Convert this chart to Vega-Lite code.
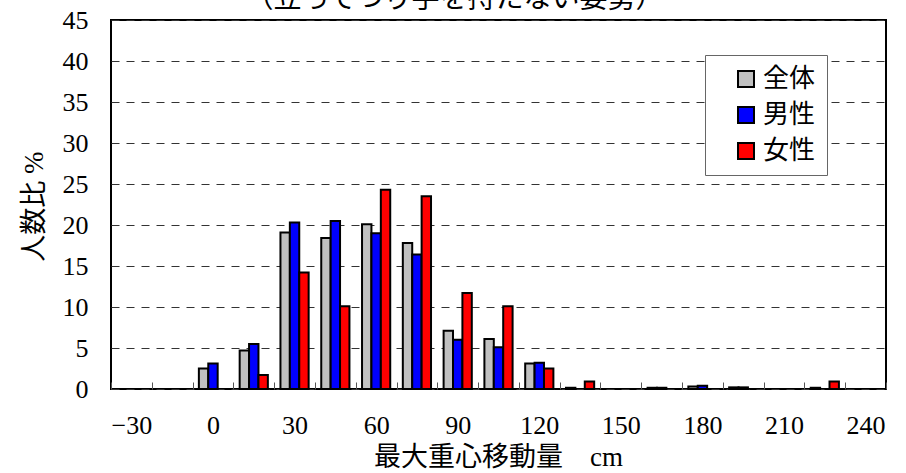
{
  "$schema": "https://vega.github.io/schema/vega-lite/v6.json",
  "autosize": "none",
  "width": 775,
  "height": 369,
  "padding": {"left": 111, "top": 20, "right": 20, "bottom": 84},
  "background": "white",
  "config": {
    "font": "Liberation Serif, Noto Sans CJK JP",
    "view": {"stroke": "black", "strokeWidth": 2}
  },
  "title": {
    "text": "（立ってつり手を持たない姿勢）",
    "fontSize": 28,
    "fontWeight": "normal",
    "font": "Liberation Serif, Noto Sans CJK JP",
    "color": "black",
    "baseline": "bottom",
    "offset": 0,
    "dy": 35,
    "dx": -44
  },
  "data": {
    "values": [
      {"bin": 0, "group": "全体", "pct": 2.5},
      {"bin": 0, "group": "男性", "pct": 3.1},
      {"bin": 15, "group": "全体", "pct": 4.7},
      {"bin": 15, "group": "男性", "pct": 5.5},
      {"bin": 15, "group": "女性", "pct": 1.7},
      {"bin": 30, "group": "全体", "pct": 19.1},
      {"bin": 30, "group": "男性", "pct": 20.3},
      {"bin": 30, "group": "女性", "pct": 14.2},
      {"bin": 45, "group": "全体", "pct": 18.4},
      {"bin": 45, "group": "男性", "pct": 20.5},
      {"bin": 45, "group": "女性", "pct": 10.1},
      {"bin": 60, "group": "全体", "pct": 20.1},
      {"bin": 60, "group": "男性", "pct": 19.0},
      {"bin": 60, "group": "女性", "pct": 24.3},
      {"bin": 75, "group": "全体", "pct": 17.8},
      {"bin": 75, "group": "男性", "pct": 16.4},
      {"bin": 75, "group": "女性", "pct": 23.5},
      {"bin": 90, "group": "全体", "pct": 7.1},
      {"bin": 90, "group": "男性", "pct": 6.0},
      {"bin": 90, "group": "女性", "pct": 11.7},
      {"bin": 105, "group": "全体", "pct": 6.1},
      {"bin": 105, "group": "男性", "pct": 5.1},
      {"bin": 105, "group": "女性", "pct": 10.1},
      {"bin": 120, "group": "全体", "pct": 3.1},
      {"bin": 120, "group": "男性", "pct": 3.2},
      {"bin": 120, "group": "女性", "pct": 2.5},
      {"bin": 135, "group": "全体", "pct": 0.15},
      {"bin": 135, "group": "女性", "pct": 0.9},
      {"bin": 165, "group": "全体", "pct": 0.15},
      {"bin": 165, "group": "男性", "pct": 0.15},
      {"bin": 180, "group": "全体", "pct": 0.3},
      {"bin": 180, "group": "男性", "pct": 0.4},
      {"bin": 195, "group": "全体", "pct": 0.2},
      {"bin": 195, "group": "男性", "pct": 0.2},
      {"bin": 225, "group": "全体", "pct": 0.15},
      {"bin": 225, "group": "女性", "pct": 0.9}
    ]
  },
  "mark": {"type": "bar", "stroke": "black", "strokeWidth": 2},
  "encoding": {
    "x": {
      "field": "bin",
      "type": "ordinal",
      "scale": {
        "domain": [-30, -15, 0, 15, 30, 45, 60, 75, 90, 105, 120, 135, 150, 165, 180, 195, 210, 225, 240],
        "paddingInner": 0,
        "paddingOuter": 0
      },
      "axis": {
        "title": "最大重心移動量　cm",
        "titleFontSize": 27,
        "titleFontWeight": "normal",
        "titleColor": "black",
        "titleX": 387,
        "titleY": 68,
        "titleAlign": "center",
        "titleBaseline": "middle",
        "labelAngle": 0,
        "labelFontSize": 26,
        "labelColor": "black",
        "labelExpr": "datum.value % 30 === 0 ? (datum.value < 0 ? '−' + abs(datum.value) : datum.label) : ''",
        "tickBand": "extent",
        "tickSize": -7,
        "tickColor": "#555555",
        "tickWidth": 1,
        "labelPadding": 30,
        "domain": false,
        "grid": false
      }
    },
    "xOffset": {
      "field": "group",
      "type": "nominal",
      "sort": ["全体", "男性", "女性"],
      "scale": {"paddingInner": 0, "paddingOuter": 0.67}
    },
    "y": {
      "field": "pct",
      "type": "quantitative",
      "scale": {"domain": [0, 45], "nice": false},
      "axis": {
        "values": [0, 5, 10, 15, 20, 25, 30, 35, 40, 45],
        "title": "人数比 %",
        "titleFontSize": 27,
        "titleFontWeight": "normal",
        "titleColor": "black",
        "titleX": -77,
        "titleY": 186,
        "titleAngle": -90,
        "titleAlign": "center",
        "titleBaseline": "middle",
        "labelFontSize": 26,
        "labelColor": "black",
        "labelPadding": 23,
        "ticks": false,
        "domain": false,
        "grid": true,
        "gridColor": "#333333",
        "gridWidth": 1,
        "gridDash": [8, 7]
      }
    },
    "fill": {
      "field": "group",
      "type": "nominal",
      "sort": ["全体", "男性", "女性"],
      "scale": {"domain": ["全体", "男性", "女性"], "range": ["#C0C0C0", "#0000FF", "#FF0000"]},
      "legend": {
        "title": null,
        "orient": "none",
        "legendX": 594,
        "legendY": 35,
        "direction": "vertical",
        "fillColor": "white",
        "strokeColor": "#666666",
        "padding": 11,
        "symbolType": "square",
        "symbolSize": 256,
        "symbolStrokeColor": "black",
        "symbolStrokeWidth": 2,
        "symbolOffset": 17,
        "labelFontSize": 26,
        "labelColor": "black",
        "labelOffset": 4,
        "rowPadding": 10,
        "labelFont": "Noto Sans CJK JP"
      }
    }
  }
}
